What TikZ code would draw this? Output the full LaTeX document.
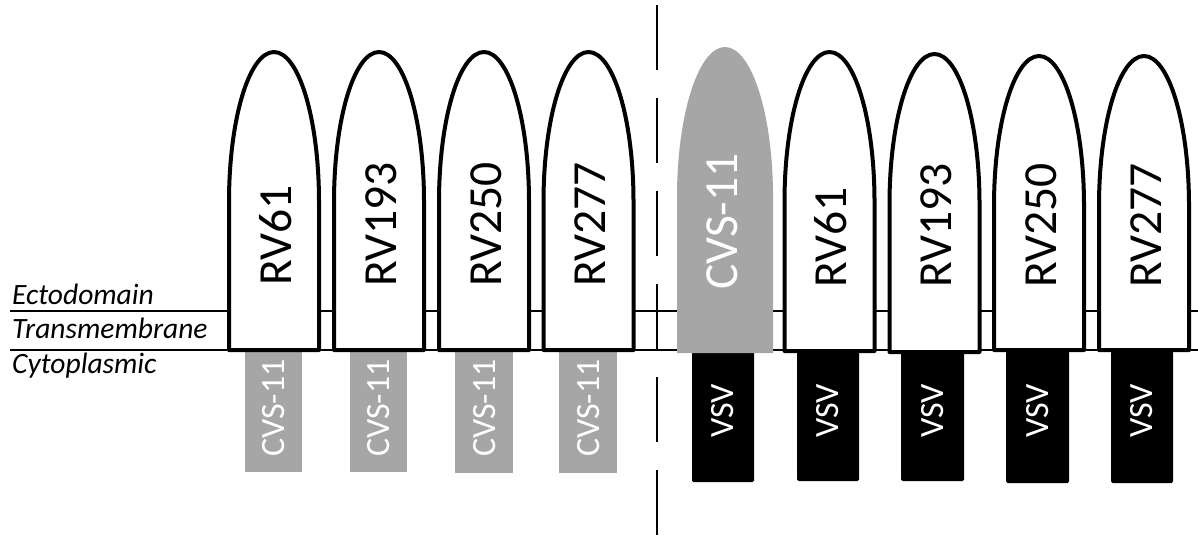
\documentclass[tikz,border=0pt]{standalone}
\usepackage{fontspec}
\setmainfont{Carlito}
\definecolor{cvsgray}{HTML}{A6A6A6}
\newcommand\ogive[5]{%
  \path[#5] ({#1-#2},#4) -- ({#1-#2},{#3+150})
    .. controls ({#1-#2},{#3+67.2}) and ({#1-0.5523*#2},#3) .. (#1,#3)
    .. controls ({#1+0.5523*#2},#3) and ({#1+#2},{#3+67.2}) .. ({#1+#2},{#3+150})
    -- ({#1+#2},#4) -- cycle;}
\tikzset{
  membrane/.style={line width=2.6pt},
  protein/.style={draw=black, fill=white, line width=4pt, line join=round},
  grayprot/.style={fill=cvsgray},
  graytail/.style={fill=cvsgray},
  blacktail/.style={fill=black, rounded corners=1.5pt},
  biglabel/.style={font=\fontsize{47.5}{47.5}\selectfont, rotate=90, anchor=west, inner sep=0pt},
  smalllabel/.style={font=\fontsize{34}{34}\selectfont, rotate=90, inner sep=0pt, text=white},
  regionlabel/.style={font=\fontsize{29.5}{29.5}\selectfont\itshape, anchor=base west, inner sep=0pt},
  divider/.style={line width=2.4pt, dash pattern=on 65pt off 28pt}
}
\begin{document}
\begin{tikzpicture}[x=1pt,y=-1pt]
\useasboundingbox (0,0) rectangle (1198,542);
% membrane lines
\coordinate (l1a) at (10,311); \coordinate (l1b) at (1198,311);
\coordinate (l2a) at (10,350); \coordinate (l2b) at (1198,350);
\draw[membrane] (l1a) -- (l1b);
\draw[membrane] (l2a) -- (l2b);
% region labels
\node[regionlabel] (ecto) at (12,304) {Ectodomain};
\node[regionlabel] (trans) at (12,338) {Transmembrane};
\node[regionlabel] (cyto) at (12,373) {Cytoplasmic};
% divider
\coordinate (dtop) at (657,5); \coordinate (dbot) at (657,541);
\draw[divider] (dtop) -- (dbot);
% left tails (CVS-11)
\fill[graytail] (245,352) rectangle (302,472);
\fill[graytail] (350,352) rectangle (407,472);
\fill[graytail] (455,352) rectangle (513,473);
\fill[graytail] (559,352) rectangle (617,473);
% right tails (VSV)
\fill[blacktail] (692,351) rectangle (754,482);
\fill[blacktail] (797,351) rectangle (859,481);
\fill[blacktail] (901,351) rectangle (964,481);
\fill[blacktail] (1006,351) rectangle (1069,483);
\fill[blacktail] (1111,351) rectangle (1173,483);
% ectodomains left
\ogive{274}{45}{52}{350}{protein}
\ogive{379}{45}{52}{350}{protein}
\ogive{484}{45}{52}{350}{protein}
\ogive{588.5}{45}{52}{350}{protein}
% ectodomains right
\ogive{725}{48}{47}{353}{grayprot}
\ogive{829.5}{45}{52}{351}{protein}
\ogive{934.5}{45}{54}{352}{protein}
\ogive{1039}{45}{56}{350}{protein}
\ogive{1144}{45}{56}{350}{protein}
% ectodomain labels
\node[biglabel] (e1) at (276,286) {RV61};
\node[biglabel] (e2) at (381,287) {RV193};
\node[biglabel] (e3) at (486,287) {RV250};
\node[biglabel] (e4) at (590,287) {RV277};
\node[biglabel, text=white] (e5) at (722,290) {CVS-11};
\node[biglabel] (e6) at (831,288) {RV61};
\node[biglabel] (e7) at (936,288) {RV193};
\node[biglabel] (e8) at (1041,288) {RV250};
\node[biglabel] (e9) at (1146,288) {RV277};
% tail labels
\node[smalllabel] (t1) at (274,408) {CVS-11};
\node[smalllabel] (t2) at (379,408) {CVS-11};
\node[smalllabel] (t3) at (484.5,408) {CVS-11};
\node[smalllabel] (t4) at (588.5,408) {CVS-11};
\node[smalllabel] (t5) at (723,411) {VSV};
\node[smalllabel] (t6) at (828,411) {VSV};
\node[smalllabel] (t7) at (932.5,411) {VSV};
\node[smalllabel] (t8) at (1037.5,411) {VSV};
\node[smalllabel] (t9) at (1142,411) {VSV};
\end{tikzpicture}
\end{document}
